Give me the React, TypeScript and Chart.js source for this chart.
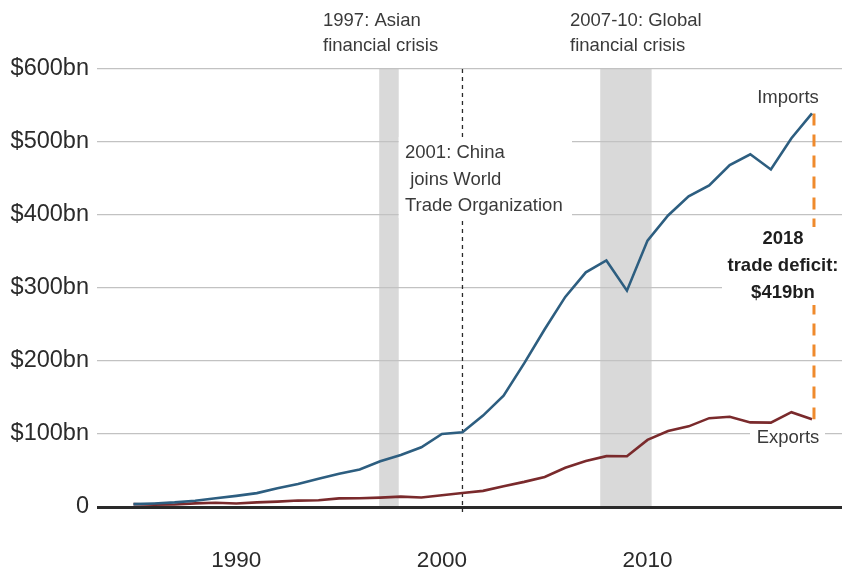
import React, { useEffect, useRef } from 'react';
import { Chart, registerables } from 'chart.js';

Chart.register(...registerables);

// ---- Data (US goods trade with China, $bn) ----
const years = [
  1985, 1986, 1987, 1988, 1989, 1990, 1991, 1992, 1993, 1994, 1995, 1996,
  1997, 1998, 1999, 2000, 2001, 2002, 2003, 2004, 2005, 2006, 2007, 2008,
  2009, 2010, 2011, 2012, 2013, 2014, 2015, 2016, 2017, 2018,
];
const importsBn = [
  3.9, 4.8, 6.3, 8.5, 12.0, 15.2, 19.0, 25.7, 31.5, 38.8, 45.5, 51.5,
  62.6, 71.2, 81.8, 100.0, 102.3, 125.2, 152.4, 196.7, 243.5, 287.8, 321.4, 337.8,
  296.4, 364.9, 399.4, 425.6, 440.4, 468.5, 483.2, 462.4, 505.2, 539.2,
];
const exportsBn = [
  3.9, 3.1, 3.5, 5.0, 5.8, 4.8, 6.3, 7.4, 8.8, 9.3, 11.8, 12.0,
  12.9, 14.2, 13.1, 16.2, 19.2, 22.1, 28.4, 34.4, 41.2, 53.7, 62.9, 69.7,
  69.5, 91.9, 104.1, 110.5, 121.7, 123.7, 115.9, 115.6, 129.9, 120.3,
];
const yTickValues = [0, 100, 200, 300, 400, 500, 600];
const xTickValues = [1990, 2000, 2010];
const crisisBands = [
  [1996.95, 1997.9],
  [2007.7, 2010.2],
];
const wtoYear = 2001;
const deficitYear = 2018;

const FONT = '"Liberation Sans", Arial, Helvetica, sans-serif';

export default function App() {
  const ref = useRef<HTMLCanvasElement>(null);

  useEffect(() => {
    document.body.style.margin = '0';
    const canvas = ref.current;
    if (!canvas) return;
    const ctx = canvas.getContext('2d');
    if (!ctx) return;

    const textLines = (
      c: CanvasRenderingContext2D,
      lines: string[],
      x: number,
      y: number,
      step: number,
      font: string,
      color: string,
      align: CanvasTextAlign
    ) => {
      c.save();
      c.font = font;
      c.fillStyle = color;
      c.textAlign = align;
      c.textBaseline = 'middle';
      lines.forEach((l, i) => c.fillText(l, x, y + i * step));
      c.restore();
    };

    const annotations = {
      id: 'annotations',
      beforeDraw(chart: any) {
        const { ctx: c, scales } = chart;
        const xs = scales.x;
        const ys = scales.y;
        c.save();
        c.fillStyle = '#d9d9d9';
        crisisBands.forEach(([a, b]) => {
          const x0 = xs.getPixelForValue(a);
          const x1 = xs.getPixelForValue(b);
          const yTop = ys.getPixelForValue(600);
          const yBot = ys.getPixelForValue(0);
          c.fillRect(x0, yTop, x1 - x0, yBot - yTop);
        });
        c.restore();
      },
      beforeDatasetsDraw(chart: any) {
        const { ctx: c, scales } = chart;
        const xs = scales.x;
        const ys = scales.y;
        const idx = years.indexOf(deficitYear);

        // 2001 WTO dashed line
        const wx = xs.getPixelForValue(wtoYear);
        c.save();
        c.strokeStyle = '#2a2a2a';
        c.lineWidth = 1.3;
        c.setLineDash([4, 4]);
        c.beginPath();
        c.moveTo(wx, ys.getPixelForValue(600));
        c.lineTo(wx, ys.getPixelForValue(0) + 5);
        c.stroke();
        c.restore();

        // deficit dashed line
        const dx = xs.getPixelForValue(deficitYear) + 2;
        c.save();
        c.strokeStyle = '#ef8a2c';
        c.lineWidth = 3;
        c.setLineDash([12, 9]);
        c.beginPath();
        c.moveTo(dx, ys.getPixelForValue(importsBn[idx]));
        c.lineTo(dx, ys.getPixelForValue(exportsBn[idx]));
        c.stroke();
        c.restore();

        // white boxes behind labels
        const boxLeft = xs.getPixelForValue(crisisBands[0][1]);
        c.save();
        c.fillStyle = '#ffffff';
        c.fillRect(boxLeft, 137, 572 - boxLeft, 81);
        c.fillRect(722, 227, 120, 78);
        c.fillRect(750, 428, 75, 20);
        c.restore();

        const reg = `18.5px ${FONT}`;
        const col = '#3a3a3a';
        textLines(c, ['1997: Asian', 'financial crisis'], 323, 21, 25, reg, col, 'left');
        textLines(c, ['2007-10: Global', 'financial crisis'], 570, 21, 25, reg, col, 'left');
        textLines(c, ['2001: China', ' joins World', 'Trade Organization'], 405, 153, 26.5, reg, col, 'left');
        textLines(c, ['Imports'], 788, 98, 0, reg, col, 'center');
        textLines(c, ['Exports'], 788, 438, 0, reg, col, 'center');
        textLines(c, ['2018', 'trade deficit:', '$419bn'], 783, 239, 27, `bold 18.5px ${FONT}`, '#1e1e1e', 'center');
      },
    };

    const chart = new Chart(ctx, {
      type: 'line',
      data: {
        datasets: [
          {
            label: 'Imports',
            data: years.map((yr, i) => ({ x: yr, y: importsBn[i] })),
            borderColor: '#2d5e80',
            borderWidth: 2.6,
            pointRadius: 0,
            tension: 0,
            fill: false,
          },
          {
            label: 'Exports',
            data: years.map((yr, i) => ({ x: yr, y: exportsBn[i] })),
            borderColor: '#7a2a2c',
            borderWidth: 2.6,
            pointRadius: 0,
            tension: 0,
            fill: false,
          },
        ],
      },
      options: {
        animation: false,
        responsive: false,
        devicePixelRatio: 1,
        layout: { padding: { top: 69, right: 0, left: 0, bottom: 0 } },
        plugins: {
          legend: { display: false },
          tooltip: { enabled: false },
        },
        scales: {
          x: {
            type: 'linear',
            min: 1983.225,
            max: 2019.46,
            grid: { display: false },
            border: { display: false },
            afterBuildTicks: (s: any) => {
              s.ticks = xTickValues.map((v) => ({ value: v }));
            },
            afterFit: (s: any) => {
              s.height = 69;
            },
            ticks: {
              padding: 32,
              color: '#2b2b2b',
              font: { family: FONT, size: 22.5 },
              maxRotation: 0,
              autoSkip: false,
              callback: (v: any) => String(v),
            },
          },
          y: {
            type: 'linear',
            min: 0,
            max: 600,
            border: { display: false },
            grid: {
              drawTicks: false,
              color: (c: any) => (c.tick && c.tick.value === 0 ? '#2a2a2a' : '#c2c2c2'),
              lineWidth: (c: any) => (c.tick && c.tick.value === 0 ? 3 : 1.2),
            },
            afterBuildTicks: (s: any) => {
              s.ticks = yTickValues.map((v) => ({ value: v }));
            },
            afterFit: (s: any) => {
              s.width = 97;
            },
            ticks: {
              padding: 8,
              color: '#2b2b2b',
              font: { family: FONT, size: 23.5 },
              callback: (v: any) => (v === 0 ? '0' : `$${v}bn`),
            },
          },
        },
      },
      plugins: [annotations],
    });

    return () => chart.destroy();
  }, []);

  return (
    <div style={{ width: 842, height: 576, background: '#ffffff' }}>
      <canvas ref={ref} width={842} height={576} style={{ display: 'block' }} />
    </div>
  );
}
